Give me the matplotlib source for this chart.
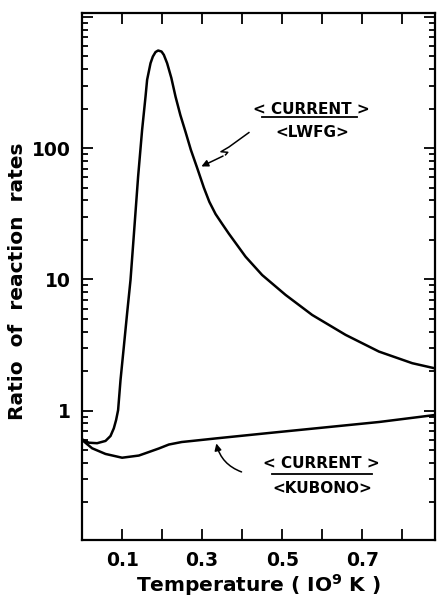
import numpy as np
import matplotlib
matplotlib.use('Agg')
import matplotlib.pyplot as plt
from matplotlib.ticker import FixedLocator, LogLocator, NullFormatter

plt.rcParams['font.family'] = ['DejaVu Sans']
plt.rcParams['font.weight'] = 'bold'

t_lwfg = [0.0, 0.0168, 0.0375, 0.0585, 0.071, 0.0793, 0.085, 0.09, 0.096, 0.1043,
          0.1125, 0.121, 0.1293, 0.14, 0.15, 0.1585, 0.1625, 0.171, 0.1768, 0.1835,
          0.19, 0.1985, 0.2043, 0.2125, 0.223, 0.2335, 0.2455, 0.2585, 0.2718, 0.2875,
          0.3043, 0.318, 0.3335, 0.35, 0.3668, 0.4085, 0.45, 0.5085, 0.575, 0.6585,
          0.7418, 0.825, 0.882]
r_lwfg = [0.605, 0.570, 0.565, 0.588, 0.641, 0.734, 0.849, 1.01, 1.71, 3.07,
          5.52, 9.91, 21.8, 60.8, 138, 247, 332, 444, 499, 540,
          555, 545, 514, 444, 343, 247, 179, 133, 97.1, 70.8,
          50, 39, 31.5, 26.5, 22.3, 14.9, 10.8, 7.62, 5.36, 3.78,
          2.82, 2.30, 2.10]

t_kubono = [0.0, 0.025, 0.0585, 0.1, 0.1418, 0.1585, 0.1918, 0.2168, 0.249, 0.275,
            0.3375, 0.4675, 0.5925, 0.7425, 0.882]
r_kubono = [0.598, 0.517, 0.468, 0.438, 0.455, 0.474, 0.515, 0.552, 0.577, 0.588,
            0.616, 0.676, 0.738, 0.82, 0.927]

xticks = [0.1, 0.2, 0.3, 0.4, 0.5, 0.6, 0.7, 0.8]
xticklabels = ['0.1', '', '0.3', '', '0.5', '', '0.7', '']
yticks = [1, 10, 100, 1000]
yticklabels = ['1', '10', '100', '']

fig = plt.figure(figsize=(4.39, 5.99), dpi=100)
ax = fig.add_axes([0.187, 0.0985, 0.804, 0.88])

ax.plot(t_lwfg, r_lwfg, color='black', lw=1.8, solid_joinstyle='round')
ax.plot(t_kubono, r_kubono, color='black', lw=1.8, solid_joinstyle='round')

ax.set_yscale('log')
ax.set_xlim(0, 0.882)
ax.set_ylim(0.1034, 1074)

ax.xaxis.set_major_locator(FixedLocator(xticks))
ax.set_xticklabels(xticklabels)
ax.yaxis.set_major_locator(FixedLocator(yticks))
ax.set_yticklabels(yticklabels)
ax.yaxis.set_minor_locator(LogLocator(base=10, subs=np.arange(2, 10)))
ax.yaxis.set_minor_formatter(NullFormatter())

ax.tick_params(which='both', direction='in', top=True, right=True, width=1.3)
ax.tick_params(which='major', length=8, labelsize=13.5, pad=8)
ax.tick_params(which='minor', length=4.5)
for s in ax.spines.values():
    s.set_linewidth(1.6)

ax.set_xlabel('Temperature ( IO$^{\\mathbf{9}}$ K )', fontsize=14.5, fontweight='bold')
ax.set_ylabel('Ratio  of  reaction  rates', fontsize=14.5, fontweight='bold',
              va='center', ha='center')
ax.xaxis.set_label_coords(0.5, -0.06)
ax.yaxis.set_label_coords(-0.182, 0.49)

# ratio labels
lab = dict(ha='center', va='center', fontsize=11, fontweight='bold')
ax.text(0.574, 196, '< CURRENT >', **lab)
ax.text(0.574, 131, '<LWFG>', **lab)
ax.plot([0.4508, 0.6875], [172, 172], color='black', lw=1.3)

ax.text(0.5985, 0.397, '< CURRENT >', **lab)
ax.text(0.60, 0.256, '<KUBONO>', **lab)
ax.plot([0.475, 0.725], [0.329, 0.329], color='black', lw=1.3)

# zigzag arrow to LWFG curve
ax.plot([0.4168, 0.3668, 0.347, 0.364, 0.3585], [131.5, 102, 94, 93, 89],
        color='black', lw=1.1)
ax.annotate('', xy=(0.2918, 71.1), xytext=(0.3585, 89),
            arrowprops=dict(arrowstyle='-|>', color='black', lw=1.1, mutation_scale=10))

# curved arrow to KUBONO curve
ax.annotate('', xy=(0.334, 0.59), xytext=(0.405, 0.336),
            arrowprops=dict(arrowstyle='-|>', color='black', lw=1.1, mutation_scale=10,
                            connectionstyle='arc3,rad=-0.3'))

fig.savefig('out.png', dpi=100)
